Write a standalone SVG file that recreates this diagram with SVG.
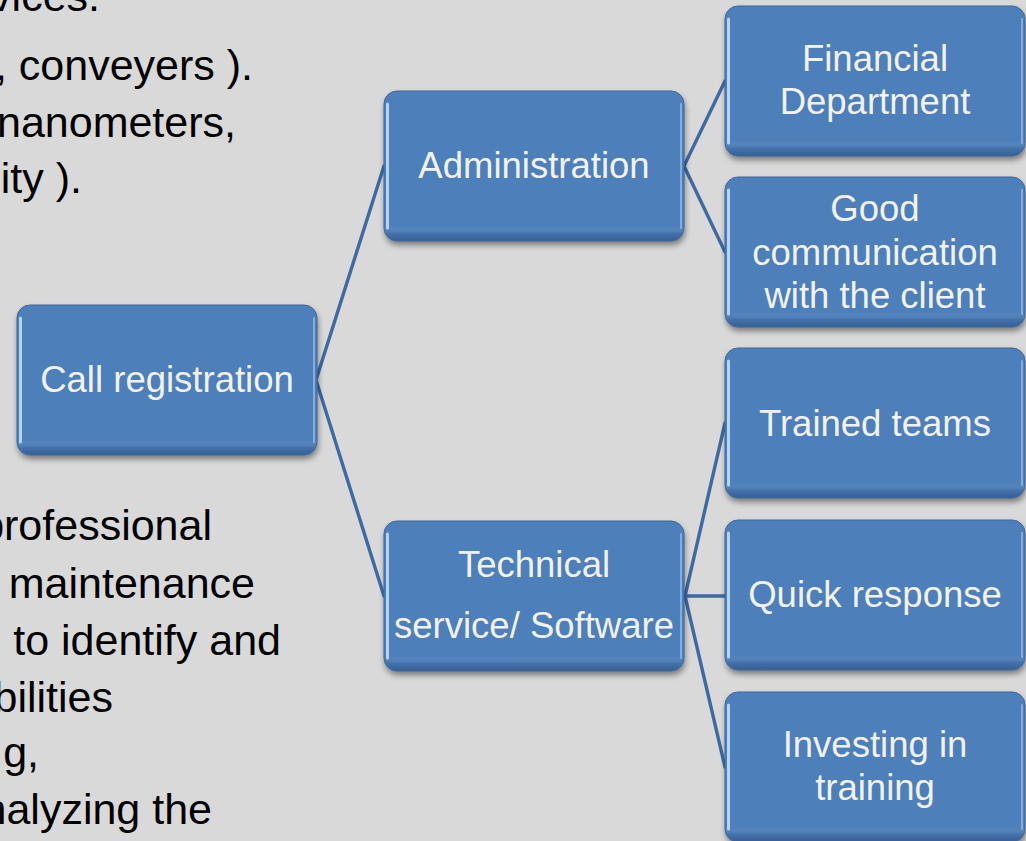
<svg xmlns="http://www.w3.org/2000/svg" xmlns:xlink="http://www.w3.org/1999/xlink" width="1026" height="841" viewBox="0 0 1026 841">
<style>
.t{font-family:"Liberation Sans",Arial,sans-serif;font-size:36.5px;fill:#f2f2f2;text-anchor:middle}
.b{font-family:"Liberation Sans",Arial,sans-serif;font-size:43px;fill:#000;text-anchor:end}
.c{stroke:#3d6aa3;stroke-width:3.4;fill:none;stroke-linecap:round}
</style>
<defs>
<filter id="sh" x="-10%" y="-10%" width="125%" height="135%">
<feGaussianBlur in="SourceAlpha" stdDeviation="3"/>
<feOffset dx="1" dy="4" result="o"/>
<feComponentTransfer><feFuncA type="linear" slope="0.45"/></feComponentTransfer>
<feMerge><feMergeNode/><feMergeNode in="SourceGraphic"/></feMerge>
</filter>
<linearGradient id="bev" x1="0" y1="0" x2="0" y2="1">
<stop offset="0" stop-color="#ffffff" stop-opacity="0"/>
<stop offset="0.9" stop-color="#ffffff" stop-opacity="0"/>
<stop offset="0.95" stop-color="#1e3f6e" stop-opacity="0.2"/>
<stop offset="1" stop-color="#1e3f6e" stop-opacity="0.5"/>
</linearGradient>
<g id="box">
<rect width="300" height="150" rx="13" fill="#4d7fbb" filter="url(#sh)"/>
<rect width="300" height="150" rx="13" fill="url(#bev)" stroke="#41699c" stroke-width="1"/>
<path d="M3.5,13 V137" stroke="#b3d4f7" stroke-width="3" stroke-linecap="round"/>
<path d="M297,13 V137" stroke="#86acdc" stroke-width="2" stroke-linecap="round"/>
</g>
</defs>
<rect width="1026" height="841" fill="#d9d9d9"/>
<g id="slide-text">
<text class="b" x="100" y="11">vices.</text>
<text class="b" x="253" y="80">, conveyers ).</text>
<text class="b" x="236" y="137">nanometers,</text>
<text class="b" x="82" y="193">ity ).</text>
<text class="b" x="212" y="540">professional</text>
<text class="b" x="255" y="598">maintenance</text>
<text class="b" x="281" y="655">to identify and</text>
<text class="b" x="113" y="712">bilities</text>
<text class="b" x="39" y="767">g,</text>
<text class="b" x="212" y="824">nalyzing the</text>
</g>
<g id="connectors">
<path class="c" d="M316,380 L384,166"/>
<path class="c" d="M316,380 L384,596"/>
<path class="c" d="M684,166 L725,81"/>
<path class="c" d="M684,166 L725,252"/>
<path class="c" d="M685,596 L725,423"/>
<path class="c" d="M685,596 L725,596"/>
<path class="c" d="M685,596 L725,767"/>
</g>
<g id="call-registration">
<use xlink:href="#box" href="#box" x="17" y="305"/>
<text class="t" x="167" y="392">Call registration</text>
</g>
<g id="administration">
<use xlink:href="#box" href="#box" x="384" y="91"/>
<text class="t" x="534" y="178">Administration</text>
</g>
<g id="technical-service">
<use xlink:href="#box" href="#box" x="384" y="521"/>
<text class="t" x="534" y="577">Technical</text>
<text class="t" x="534" y="638">service/ Software</text>
</g>
<g id="financial-department">
<use xlink:href="#box" href="#box" x="725" y="6"/>
<text class="t" x="875" y="71">Financial</text>
<text class="t" x="875" y="114">Department</text>
</g>
<g id="good-communication">
<use xlink:href="#box" href="#box" x="725" y="177"/>
<text class="t" x="875" y="221">Good</text>
<text class="t" x="875" y="265">communication</text>
<text class="t" x="875" y="308">with the client</text>
</g>
<g id="trained-teams">
<use xlink:href="#box" href="#box" x="725" y="348"/>
<text class="t" x="875" y="436">Trained teams</text>
</g>
<g id="quick-response">
<use xlink:href="#box" href="#box" x="725" y="520"/>
<text class="t" x="875" y="607">Quick response</text>
</g>
<g id="investing-training">
<use xlink:href="#box" href="#box" x="725" y="692"/>
<text class="t" x="875" y="757">Investing in</text>
<text class="t" x="875" y="800">training</text>
</g>
</svg>
